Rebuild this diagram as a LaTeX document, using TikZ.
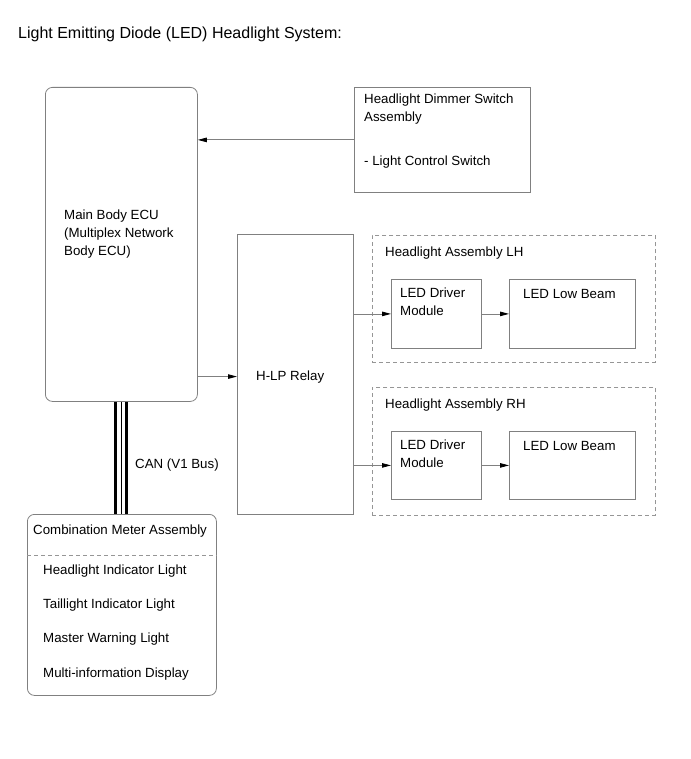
\documentclass[tikz,border=0pt]{standalone}
\usepackage{fontspec}
\setmainfont{Liberation Sans}
\usetikzlibrary{arrows.meta}

\definecolor{boxgray}{RGB}{128,128,128}
\definecolor{dashgray}{RGB}{150,150,150}

\tikzset{
    box/.style={draw=boxgray, line width=0.8pt, inner sep=0pt, anchor=north west},
    group/.style={box, draw=dashgray, dash pattern=on 4pt off 3pt},
    txt/.style={anchor=base west, inner sep=0pt, align=left,
        font=\fontsize{13.3}{18}\selectfont},
    sig/.style={draw=boxgray, line width=0.8pt,
        -{Triangle[length=9pt,width=4.5pt,black]}},
}

\begin{document}
\begin{tikzpicture}[x=1pt,y=-1pt]
    \useasboundingbox (0,0) rectangle (690,759);

    % Titre
    \node[txt, font=\fontsize{16}{19}\selectfont] (title) at (18,39)
        {Light Emitting Diode (LED) Headlight System:};

    % Boîtiers principaux
    \node[box, rounded corners=7pt, minimum width=152pt, minimum height=314pt] (ecu) at (45,87) {};
    \node[box, minimum width=176pt, minimum height=105pt] (dimmer) at (354,87) {};
    \node[box, minimum width=116pt, minimum height=280pt] (relay) at (237,234) {};
    \node[box, rounded corners=7pt, minimum width=189pt, minimum height=181pt] (meter) at (27,514) {};

    % (base = ligne du bas pour les textes sur plusieurs lignes)
    \node[txt] (ecutext) at (64,255) {Main Body ECU\\(Multiplex Network\\Body ECU)};
    \node[txt] (dimtext) at (364,122) {Headlight Dimmer Switch\\Assembly};
    \node[txt] (dimsub) at (364,166) {- Light Control Switch};
    \node[txt] (hlptext) at (256,380) {H-LP Relay};

    % Phares gauche et droit
    \node[group, minimum width=283pt, minimum height=127pt] (grpL) at (372,235) {};
    \node[txt] (grpLtext) at (385,256) {Headlight Assembly LH};
    \node[box, minimum width=90pt, minimum height=69pt] (drvL) at (391,279) {};
    \node[box, minimum width=126pt, minimum height=69pt] (beamL) at (509,279) {};
    \node[txt] (drvLtext) at (400,315) {LED Driver\\Module};
    \node[txt] (beamLtext) at (523,298) {LED Low Beam};

    \node[group, minimum width=283pt, minimum height=128pt] (grpR) at (372,387) {};
    \node[txt] (grpRtext) at (385,408) {Headlight Assembly RH};
    \node[box, minimum width=90pt, minimum height=68pt] (drvR) at (391,431) {};
    \node[box, minimum width=126pt, minimum height=68pt] (beamR) at (509,431) {};
    \node[txt] (drvRtext) at (400,467) {LED Driver\\Module};
    \node[txt] (beamRtext) at (523,450) {LED Low Beam};

    % Liaisons
    \draw[sig] (dimmer.west) -- (dimmer.west -| ecu.east);
    \draw[sig] (ecu.east |- hlptext) -- (relay.west |- hlptext);
    \draw[sig] (relay.east |- drvL) -- (drvL.west);
    \draw[sig] (drvL.east) -- (beamL.west);
    \draw[sig] (relay.east |- drvR) -- (drvR.west);
    \draw[sig] (drvR.east) -- (beamR.west);

    % Bus CAN
    \foreach \dx/\w in {-5.5/3, 0/1, 5.5/3} {
        \draw[line width=\w pt] ([xshift=\dx pt]ecu.south) -- ([xshift=\dx pt]ecu.south |- meter.north);
    }
    \node[txt] (cantext) at (135,468) {CAN (V1 Bus)};

    % Combiné d'instruments
    \node[txt] (metertitle) at (33,534) {Combination Meter Assembly};
    \draw[draw=dashgray, line width=0.8pt, dash pattern=on 4pt off 3pt]
        ([yshift=-41pt]meter.north west) -- ([yshift=-41pt]meter.north east);
    \foreach \y/\t [count=\i] in {574/Headlight Indicator Light, 608/Taillight Indicator Light,
                                  642/Master Warning Light, 677/Multi-information Display} {
        \node[txt] (item\i) at (43,\y) {\t};
    }
\end{tikzpicture}
\end{document}
